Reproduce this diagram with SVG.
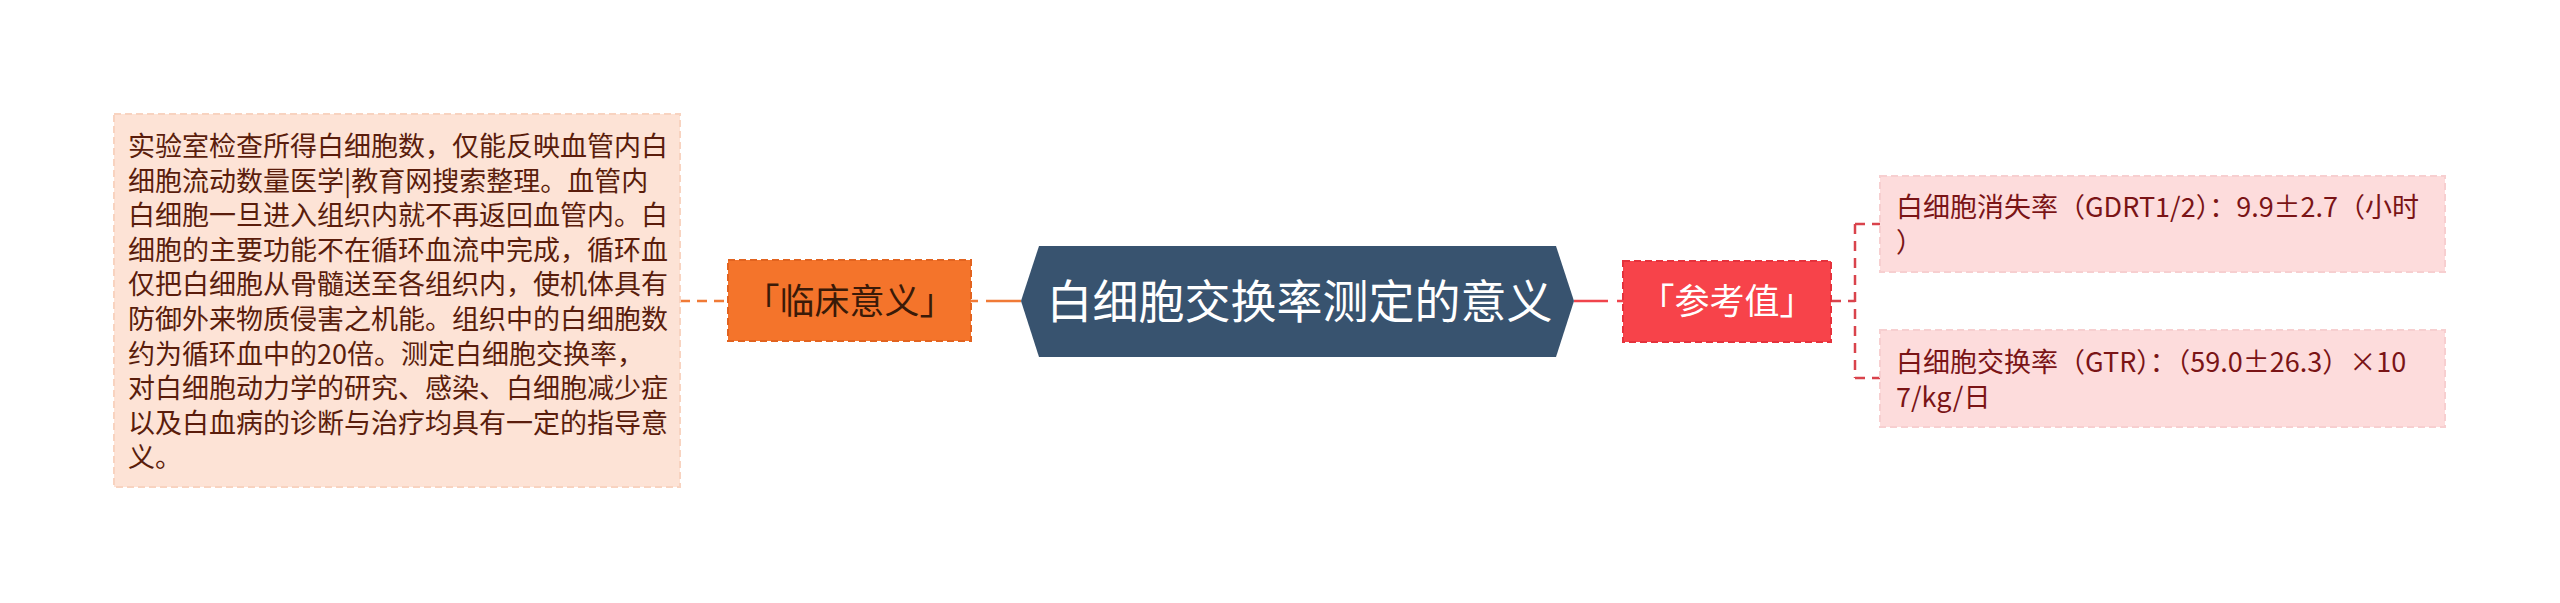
<svg xmlns="http://www.w3.org/2000/svg" width="2560" height="603" viewBox="0 0 2560 603">
<style>
text{font-family:"Noto Sans CJK SC","Noto Sans",sans-serif;}
.leaf{font-size:27px;fill:#5a1d0c;}
.rleaf{font-size:27px;fill:#7a1416;}
.conn{fill:none;stroke-width:2.5;}
</style>
<rect width="2560" height="603" fill="#ffffff"/>
<g id="connectors">
  <line class="conn" x1="680" y1="301" x2="728" y2="301" stroke="#f07a36" stroke-dasharray="10,7"/>
  <line class="conn" x1="1021" y1="301" x2="971" y2="301" stroke="#f07a36" stroke-width="4" stroke-dasharray="35,8,7"/>
  <line class="conn" x1="1574" y1="301" x2="1623" y2="301" stroke="#f0444c" stroke-width="4" stroke-dasharray="34,9,6"/>
  <path class="conn" d="M1831,301 H1855 M1855,224 V378 M1855,224 H1880 M1855,378 H1880" stroke="#d9434c" stroke-dasharray="10,7"/>
</g>
<g id="node-left">
  <rect x="114" y="114" width="566" height="373" fill="#fde3d6" stroke="#f8d3c0" stroke-width="2" stroke-dasharray="7,4"/>
  <text class="leaf" x="128" y="156">实验室检查所得白细胞数，仅能反映血管内白</text>
  <text class="leaf" x="128" y="190.6">细胞流动数量医学|教育网搜索整理。血管内</text>
  <text class="leaf" x="128" y="225.2">白细胞一旦进入组织内就不再返回血管内。白</text>
  <text class="leaf" x="128" y="259.8">细胞的主要功能不在循环血流中完成，循环血</text>
  <text class="leaf" x="128" y="294.4">仅把白细胞从骨髓送至各组织内，使机体具有</text>
  <text class="leaf" x="128" y="329">防御外来物质侵害之机能。组织中的白细胞数</text>
  <text class="leaf" x="128" y="363.6">约为循环血中的20倍。测定白细胞交换率，</text>
  <text class="leaf" x="128" y="398.2">对白细胞动力学的研究、感染、白细胞减少症</text>
  <text class="leaf" x="128" y="432.8">以及白血病的诊断与治疗均具有一定的指导意</text>
  <text class="leaf" x="128" y="467.4">义。</text>
</g>
<g id="node-clinical">
  <rect x="728" y="260" width="243" height="81" fill="#f4742b" stroke="#e2631f" stroke-width="2" stroke-dasharray="7,4"/>
  <text x="849.5" y="314" font-size="35" fill="#3a1a08" text-anchor="middle">「临床意义」</text>
</g>
<g id="node-center">
  <polygon points="1021,301 1039,246 1556,246 1574,301 1556,357 1039,357" fill="#38536f"/>
  <text x="1299.5" y="318" font-size="46" fill="#ffffff" text-anchor="middle">白细胞交换率测定的意义</text>
</g>
<g id="node-ref">
  <rect x="1623" y="261" width="208" height="81" fill="#f7434a" stroke="#e5323c" stroke-width="2" stroke-dasharray="7,4"/>
  <text x="1727" y="314" font-size="35" fill="#ffffff" text-anchor="middle">「参考值」</text>
</g>
<g id="node-gdrt">
  <rect x="1880" y="176" width="565" height="96" fill="#fddcdc" stroke="#f7cfd0" stroke-width="2" stroke-dasharray="7,4"/>
  <text class="rleaf" x="1896" y="217">白细胞消失率（GDRT1/2）：9.9±2.7（小时</text>
  <text class="rleaf" x="1896" y="251.6">）</text>
</g>
<g id="node-gtr">
  <rect x="1880" y="330" width="565" height="97" fill="#fddcdc" stroke="#f7cfd0" stroke-width="2" stroke-dasharray="7,4"/>
  <text class="rleaf" x="1896" y="372">白细胞交换率（GTR）：（59.0±26.3）×10</text>
  <text class="rleaf" x="1896" y="406.6">7/kg/日</text>
</g>
</svg>
